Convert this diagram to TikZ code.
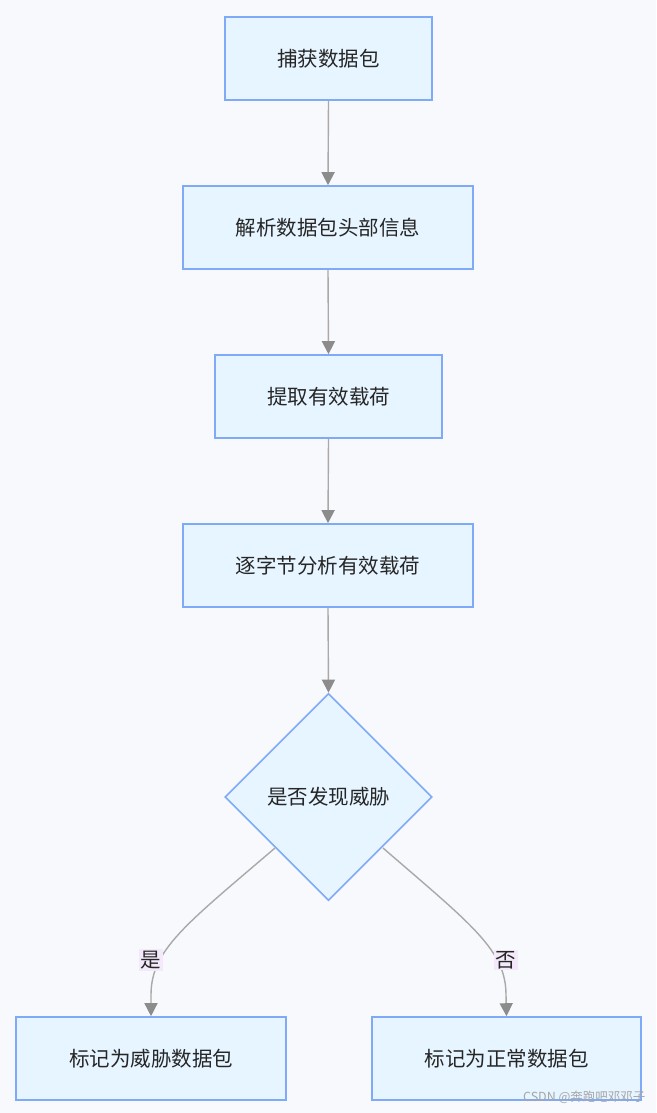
\documentclass[tikz,border=0pt]{standalone}
\usepackage{fontspec}
\newfontfamily\cjk{Noto Sans CJK SC}
\usetikzlibrary{arrows.meta,shapes.geometric}
\definecolor{bgc}{HTML}{F8F9FC}
\definecolor{nodefill}{HTML}{E6F5FF}
\definecolor{nodeline}{HTML}{7FAAF8}
\definecolor{edgec}{HTML}{A9A9A9}
\definecolor{tipc}{HTML}{8C8C8C}
\definecolor{lblfill}{HTML}{F3E9FA}
\tikzset{
  x=1pt,y=-1pt,
  stepbox/.style={draw=nodeline,fill=nodefill,line width=1.6pt,minimum height=83pt,inner sep=0pt,font=\cjk\fontsize{20.5}{24}\selectfont,text=black!85},
  decide/.style={draw=nodeline,fill=nodefill,line width=1.6pt,diamond,minimum width=207pt,minimum height=207pt,inner sep=0pt,font=\cjk\fontsize{20.5}{24}\selectfont,text=black!85},
  flow/.style={draw=edgec,line width=1.4pt,-{Triangle[width=13pt,length=13pt,fill=tipc,color=tipc]}},
  lbl/.style={fill=lblfill,inner sep=1.5pt,font=\cjk\fontsize{20.5}{24}\selectfont,text=black!85},
}
\begin{document}
\begin{tikzpicture}
\fill[bgc] (0,0) rectangle (656,1113);
\useasboundingbox (0,0) rectangle (656,1113);
\node[stepbox,minimum width=207pt] (n1) at (328.5,58.5) {捕获数据包};
\node[stepbox,minimum width=290pt] (n2) at (328,227.5) {解析数据包头部信息};
\node[stepbox,minimum width=227pt] (n3) at (328.5,396.5) {提取有效载荷};
\node[stepbox,minimum width=290pt] (n4) at (328,565.5) {逐字节分析有效载荷};
\node[decide] (d) at (328.5,797) {是否发现威胁};
\node[stepbox,minimum width=270pt] (y) at (151,1058.5) {标记为威胁数据包};
\node[stepbox,minimum width=269pt] (n) at (506.5,1058.5) {标记为正常数据包};
\draw[flow] (n1.south) -- (n2.north);
\draw[flow] (n2.south) -- (n3.north);
\draw[flow] (n3.south) -- (n4.north);
\draw[flow] (n4.south) -- (d.north);
\coordinate (dl) at (275,848);
\coordinate (dr) at (383,848);
\draw[flow] (dl) .. controls (185,925) and (151,950) .. (151,995) -- (y.north);
\draw[flow] (dr) .. controls (472,925) and (506,950) .. (506,995) -- (n.north);
\node[lbl] (ly) at (151,960) {是};
\node[lbl] (ln) at (506,960) {否};
\node[anchor=east,font=\cjk\fontsize{12.5}{15}\selectfont,text=black!35] (wm) at (649,1097) {CSDN @奔跑吧邓邓子};
\end{tikzpicture}
\end{document}
